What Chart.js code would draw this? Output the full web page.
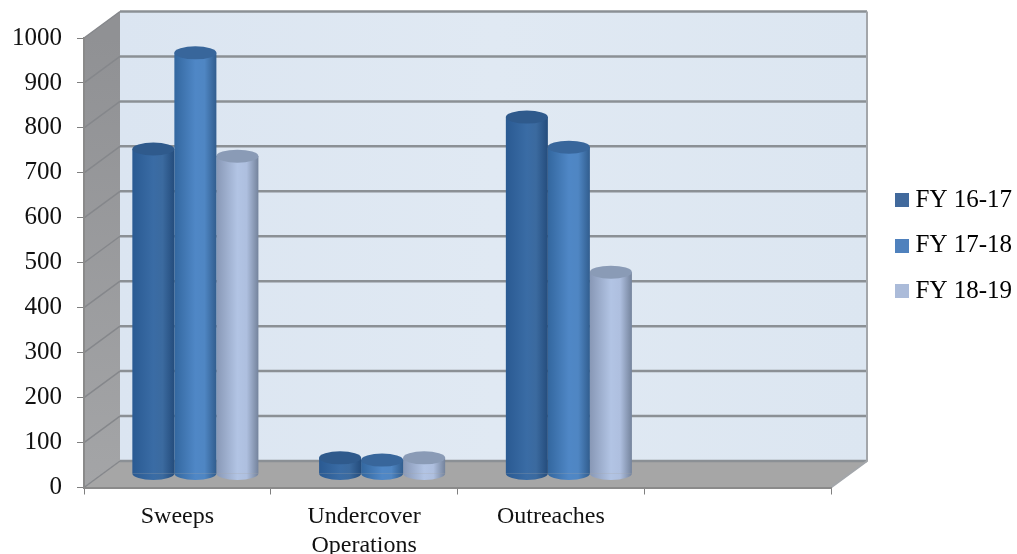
<!DOCTYPE html>
<html>
<head>
<meta charset="utf-8">
<title>Chart</title>
<script src="https://cdn.jsdelivr.net/npm/chart.js@4"></script>
<style>
    html, body { margin: 0; padding: 0; background: #fff; overflow: hidden; }
    #wrap { position: relative; width: 1017px; height: 554px; }
</style>
</head>
<body>
<div id="wrap"><canvas id="chart"></canvas></div>
<script>
const categories = ['Sweeps', ['Undercover', 'Operations'], 'Outreaches', ''];
const seriesNames = ['FY 16-17', 'FY 17-18', 'FY 18-19'];
const fy1617 = [723, 36, 794, null];
const fy1718 = [937, 31, 727, null];
const fy1819 = [707, 36, 449, null];
const yTicksMax = 1000;
const yTicksStep = 100;

const swatchColors = ['#41699c', '#4f81bd', '#abbbd9'];
const bodyStops = [
    ['#2a5a92', '#3a6ca5', '#3b6a9f', '#244c7c'],
    ['#33679f', '#4f87c6', '#4f86c3', '#315d8e'],
    ['#8898b6', '#b2c4e4', '#aebfdf', '#74839c']
];
const capColors = ['#2f5a8c', '#38669b', '#8a9bb6'];

const serif = '"Liberation Serif", serif';
const depthX = 36, depthY = -26.5;   // back wall offset
const barShiftX = 18, barShiftY = -13.5;   // bars stand half way into the floor
const capRadius = 6.5;
const groupShare = 0.675;

function makeSwatch(color) {
    const c = document.createElement('canvas');
    c.width = 14;
    c.height = 14;
    const g = c.getContext('2d');
    g.fillStyle = color;
    g.fillRect(0, 0, 14, 14);
    return c;
}

function cylinderFill(ctx, left, right, stops) {
    const grad = ctx.createLinearGradient(left, 0, right, 0);
    grad.addColorStop(0, stops[0]);
    grad.addColorStop(0.5, stops[1]);
    grad.addColorStop(0.72, stops[2]);
    grad.addColorStop(1, stops[3]);
    return grad;
}

function barBackground(context) {
    const ds = context.datasetIndex;
    const xScale = context.chart.scales.x;
    if (context.dataIndex === undefined || !xScale) return swatchColors[ds];
    const w = xScale.width / categories.length * groupShare / seriesNames.length;
    const cx = xScale.getPixelForValue(context.dataIndex) + (ds - 1) * w;
    return cylinderFill(context.chart.ctx, cx - w / 2, cx + w / 2, bodyStops[ds]);
}

const wallsPlugin = {
    id: 'walls',
    beforeDraw(chart) {
        const { ctx, chartArea: a, scales } = chart;
        const yTop = a.top, yBottom = a.bottom;

        ctx.save();
        // back wall
        const wall = ctx.createLinearGradient(a.left + depthX, 0, a.right + depthX, 0);
        wall.addColorStop(0, '#dbe5f1');
        wall.addColorStop(0.5, '#e0e9f3');
        wall.addColorStop(1, '#dce6f1');
        ctx.fillStyle = wall;
        ctx.fillRect(a.left + depthX, yTop + depthY, a.width, a.height);

        // side wall
        const side = ctx.createLinearGradient(0, yTop, 0, yBottom);
        side.addColorStop(0, '#909194');
        side.addColorStop(1, '#a4a5a7');
        ctx.fillStyle = side;
        ctx.beginPath();
        ctx.moveTo(a.left, yTop);
        ctx.lineTo(a.left + depthX, yTop + depthY);
        ctx.lineTo(a.left + depthX, yBottom + depthY);
        ctx.lineTo(a.left, yBottom);
        ctx.closePath();
        ctx.fill();

        // floor
        ctx.fillStyle = '#a6a6a6';
        ctx.beginPath();
        ctx.moveTo(a.left, yBottom);
        ctx.lineTo(a.left + depthX, yBottom + depthY);
        ctx.lineTo(a.right + depthX, yBottom + depthY);
        ctx.lineTo(a.right, yBottom);
        ctx.closePath();
        ctx.fill();

        // grid lines from the y scale
        scales.y.ticks.forEach(t => {
            const y = scales.y.getPixelForValue(t.value);
            ctx.strokeStyle = '#85878b';
            ctx.lineWidth = 1.5;
            ctx.beginPath();
            ctx.moveTo(a.left, y);
            ctx.lineTo(a.left + depthX, y + depthY);
            ctx.stroke();
            ctx.strokeStyle = '#8b9095';
            ctx.lineWidth = 2.5;
            ctx.beginPath();
            ctx.moveTo(a.left + depthX, y + depthY);
            ctx.lineTo(a.right + depthX, y + depthY);
            ctx.stroke();
        });

        // right and front edges
        ctx.strokeStyle = '#a3a6aa';
        ctx.lineWidth = 2;
        ctx.beginPath();
        ctx.moveTo(a.right + depthX, yTop + depthY);
        ctx.lineTo(a.right + depthX, yBottom + depthY);
        ctx.lineTo(a.right, yBottom);
        ctx.stroke();
        ctx.restore();
    },
    afterLayout(chart) {
        // legend sits right of the walls, beside the plot
        const legend = chart.legend;
        legend.left = 879.5;
        legend.right = 1017;
        legend.top = 167;
        legend.bottom = 554;
    },
    beforeDatasetsDraw(chart) {
        chart.ctx.save();
        chart.ctx.translate(barShiftX, barShiftY);
    },
    afterDatasetDraw(chart, args) {
        const ctx = chart.ctx;
        const ds = args.index;
        const values = chart.data.datasets[ds].data;
        args.meta.data.forEach((bar, i) => {
            if (values[i] === null) return;
            const r = bar.width / 2;
            ctx.fillStyle = cylinderFill(ctx, bar.x - r, bar.x + r, bodyStops[ds]);
            ctx.beginPath();
            ctx.ellipse(bar.x, bar.base, r, capRadius, 0, 0, Math.PI);
            ctx.fill();
            ctx.fillStyle = capColors[ds];
            ctx.beginPath();
            ctx.ellipse(bar.x, bar.y, r, capRadius, 0, 0, Math.PI * 2);
            ctx.fill();
        });
    },
    afterDatasetsDraw(chart) {
        chart.ctx.restore();
    }
};

const seriesValues = [fy1617, fy1718, fy1819];

new Chart(document.getElementById('chart'), {
    type: 'bar',
    data: {
        labels: categories,
        datasets: seriesNames.map((name, i) => ({
            label: name,
            data: seriesValues[i],
            clip: false,
            backgroundColor: barBackground,
            borderWidth: 0,
            categoryPercentage: groupShare,
            barPercentage: 1
        }))
    },
    options: {
        responsive: true,
        maintainAspectRatio: false,
        animation: false,
        layout: { padding: { top: 38, right: 186, left: 0, bottom: 0 } },
        plugins: {
            title: { display: false },
            tooltip: { enabled: false },
            legend: {
                position: 'chartArea',
                align: 'start',
                labels: {
                    usePointStyle: true,
                    pointStyleWidth: 3,
                    padding: 20.5,
                    color: '#111',
                    font: { family: serif, size: 25 },
                    generateLabels: () => seriesNames.map((name, i) => ({
                        text: name,
                        datasetIndex: i,
                        fillStyle: swatchColors[i],
                        strokeStyle: swatchColors[i],
                        lineWidth: 0,
                        pointStyle: makeSwatch(swatchColors[i])
                    }))
                }
            }
        },
        scales: {
            x: {
                afterFit: scale => { scale.height = 66.5; },
                grid: { drawOnChartArea: false, drawTicks: true, tickLength: 7, color: '#7f7f7f' },
                border: { display: true, color: '#8a8a8a', width: 2 },
                ticks: {
                    autoSkip: false,
                    maxRotation: 0,
                    padding: 8,
                    color: '#111',
                    font: { family: serif, size: 24 }
                }
            },
            y: {
                min: 0,
                max: yTicksMax,
                afterFit: scale => { scale.width = 84; },
                grid: { drawOnChartArea: false, drawTicks: true, tickLength: 7, color: '#7f7f7f' },
                border: { display: true, color: '#8a8a8a', width: 2 },
                ticks: {
                    stepSize: yTicksStep,
                    padding: 15,
                    color: '#111',
                    font: { family: serif, size: 25 },
                    callback: value => String(value)
                }
            }
        }
    },
    plugins: [wallsPlugin]
});
</script>
</body>
</html>
